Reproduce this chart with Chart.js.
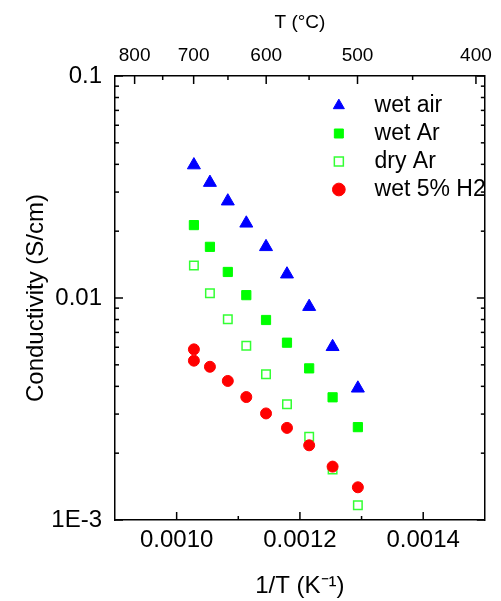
<!DOCTYPE html>
<html>
<head>
<meta charset="utf-8">
<script src="https://cdn.jsdelivr.net/npm/chart.js@4.4.1/dist/chart.umd.min.js"></script>
<style>
html, body { margin: 0; padding: 0; background: #fff; }
canvas { display: block; }
</style>
</head>
<body>
<canvas id="chart" width="501" height="601"></canvas>
<script>
// values
var seriesNames = ['wet air', 'wet Ar', 'dry Ar', 'wet 5% H2'];
var invT = [0.001028, 0.001054, 0.001083, 0.001113, 0.001145, 0.001179, 0.001215, 0.001253, 0.001294];
var wetAir = [0.0397, 0.0331, 0.0273, 0.0217, 0.0170, 0.0128, 0.00914, 0.00603, 0.00392];
var wetAr = [0.0213, 0.0170, 0.0131, 0.0103, 0.00796, 0.00629, 0.00482, 0.00357, 0.00262];
var dryAr = [0.0140, 0.0105, 0.00802, 0.00610, 0.00453, 0.00332, 0.00237, 0.00169, 0.001165];
var invTH2 = [0.001028, 0.001028, 0.001054, 0.001083, 0.001113, 0.001145, 0.001179, 0.001215, 0.001253, 0.001294];
var wetH2 = [0.00587, 0.00522, 0.00490, 0.00423, 0.00358, 0.00302, 0.00260, 0.00217, 0.00174, 0.001404];

var xTicks = [0.0010, 0.0012, 0.0014];
var xMinorTicks = [0.0011, 0.0013];
var yTicks = [0.001, 0.01, 0.1];
var yTickLabels = ['1E-3', '0.01', '0.1'];
var tempTicks = [800, 700, 600, 500, 400];
var tempMinorTicks = [750, 650, 550, 450];

var FONT = "'Liberation Sans', Arial, sans-serif";

function toInvT(c) { return 1 / (c + 273.15); }
function pts(xs, ys) {
  var out = [];
  for (var i = 0; i < ys.length; i++) out.push({x: xs[i], y: ys[i]});
  return out;
}

var frame = {
  id: 'frame',
  afterLayout: function(chart) {
    // move the legend to the upper right of the plot
    var lg = chart.legend, a = chart.chartArea;
    var w = lg.width, h = lg.height;
    lg.left = a.right - 156; lg.top = a.top + 13;
    lg.right = lg.left + w; lg.bottom = lg.top + h;
  },
  afterDraw: function(chart) {
    var ctx = chart.ctx, a = chart.chartArea;
    var sx = chart.scales.x, sx2 = chart.scales.x2, sy = chart.scales.y;
    ctx.save();
    ctx.strokeStyle = '#000';
    ctx.lineWidth = 1.5;
    function seg(x1, y1, x2, y2) {
      ctx.beginPath(); ctx.moveTo(x1, y1); ctx.lineTo(x2, y2); ctx.stroke();
    }
    xTicks.forEach(function(v) { var p = sx.getPixelForValue(v); seg(p, a.bottom, p, a.bottom - 8); });
    xMinorTicks.forEach(function(v) { var p = sx.getPixelForValue(v); seg(p, a.bottom, p, a.bottom - 4); });
    tempTicks.forEach(function(t) { var p = sx2.getPixelForValue(toInvT(t)); seg(p, a.top, p, a.top + 8); });
    tempMinorTicks.forEach(function(t) { var p = sx2.getPixelForValue(toInvT(t)); seg(p, a.top, p, a.top + 4); });
    for (var d = 0; d < yTicks.length; d++) {
      var p = sy.getPixelForValue(yTicks[d]);
      seg(a.left, p, a.left + 8, p);
      seg(a.right, p, a.right - 8, p);
      if (d == yTicks.length - 1) break;
      for (var m = 2; m <= 9; m++) {
        var q = sy.getPixelForValue(yTicks[d] * m);
        seg(a.left, q, a.left + 4, q);
        seg(a.right, q, a.right - 4, q);
      }
    }
    ctx.restore();
  }
};

chart = new Chart(document.getElementById('chart'), {
  type: 'scatter',
  data: {
    datasets: [{
      label: seriesNames[0],
      data: pts(invT, wetAir),
      xAxisID: 'x', yAxisID: 'y',
      pointStyle: 'triangle',
      pointRadius: 7.5,
      backgroundColor: '#0000ff',
      borderColor: '#0000ff',
      borderWidth: 1,
      order: 1
    }, {
      label: seriesNames[1],
      data: pts(invT, wetAr),
      xAxisID: 'x', yAxisID: 'y',
      pointStyle: 'rect',
      pointRadius: 6.5,
      backgroundColor: '#00ff00',
      borderColor: '#00ff00',
      borderWidth: 1,
      order: 1
    }, {
      label: seriesNames[2],
      data: pts(invT, dryAr),
      xAxisID: 'x', yAxisID: 'y',
      pointStyle: 'rect',
      pointRadius: 6,
      backgroundColor: '#ffffff',
      borderColor: '#33ff33',
      borderWidth: 1.5,
      order: 1
    }, {
      label: seriesNames[3],
      data: pts(invTH2, wetH2),
      xAxisID: 'x', yAxisID: 'y',
      pointStyle: 'circle',
      pointRadius: 5.5,
      backgroundColor: '#ff0000',
      borderColor: '#ff0000',
      borderWidth: 1,
      order: 0
    }]
  },
  options: {
    responsive: false,
    animation: false,
    devicePixelRatio: 1,
    layout: { padding: 0 },
    plugins: {
      tooltip: { enabled: false },
      legend: {
        position: 'chartArea',
        align: 'start',
        labels: {
          usePointStyle: true,
          boxWidth: 10,
          boxHeight: 9,
          padding: 5,
          color: '#000',
          font: { family: FONT, size: 23 },
          sort: function(a, b) { return a.datasetIndex - b.datasetIndex; },
          generateLabels: function(c) {
            var items = Chart.defaults.plugins.legend.labels.generateLabels(c);
            items.forEach(function(it) { it.text = '   ' + it.text; });
            return items;
          }
        }
      }
    },
    scales: {
      x: {
        type: 'linear', position: 'bottom', min: 0.0009, max: 0.0015,
        afterBuildTicks: function(s) { s.ticks = xTicks.map(function(v) { return {value: v}; }); },
        afterFit: function(s) { s.height = 81; },
        grid: { display: false, drawTicks: false },
        border: { display: true, color: '#000', width: 1.5 },
        ticks: {
          autoSkip: false, maxRotation: 0, padding: 6, color: '#000',
          font: { family: FONT, size: 24 },
          callback: function(v) { return v.toFixed(4); }
        },
        title: { display: true, text: '1/T (K⁻¹)', color: '#000', font: { family: FONT, size: 24 }, padding: { top: 0, bottom: 0 } }
      },
      x2: {
        type: 'linear', position: 'top', min: 0.0009, max: 0.0015,
        afterBuildTicks: function(s) { s.ticks = tempTicks.map(function(t) { return {value: toInvT(t)}; }); },
        afterFit: function(s) { s.height = 76; },
        grid: { display: false, drawTicks: false },
        border: { display: true, color: '#000', width: 1.5 },
        ticks: {
          autoSkip: false, maxRotation: 0, padding: 9, color: '#000',
          font: { family: FONT, size: 19 },
          callback: function(v, i) { return String(tempTicks[i]); }
        },
        title: { display: true, text: 'T (°C)', color: '#000', font: { family: FONT, size: 19 }, padding: { top: 11, bottom: 0 } }
      },
      y: {
        type: 'logarithmic', position: 'left', min: 0.001, max: 0.1,
        afterBuildTicks: function(s) { s.ticks = yTicks.map(function(v) { return {value: v}; }); },
        afterFit: function(s) { s.width = 115; },
        grid: { display: false, drawTicks: false },
        border: { display: true, color: '#000', width: 1.5 },
        ticks: {
          autoSkip: false, padding: 13, color: '#000',
          font: { family: FONT, size: 24 },
          callback: function(v, i) { return yTickLabels[i]; }
        },
        title: { display: true, text: 'Conductivity (S/cm)', color: '#000', font: { family: FONT, size: 24 }, padding: { top: 22, bottom: 0 } }
      },
      yR: {
        type: 'logarithmic', position: 'right', min: 0.001, max: 0.1,
        afterFit: function(s) { s.width = 8; },
        grid: { display: false, drawTicks: false },
        border: { display: true, color: '#000', width: 1.5 },
        ticks: { display: false }
      }
    }
  },
  plugins: [frame]
});
</script>
</body>
</html>
